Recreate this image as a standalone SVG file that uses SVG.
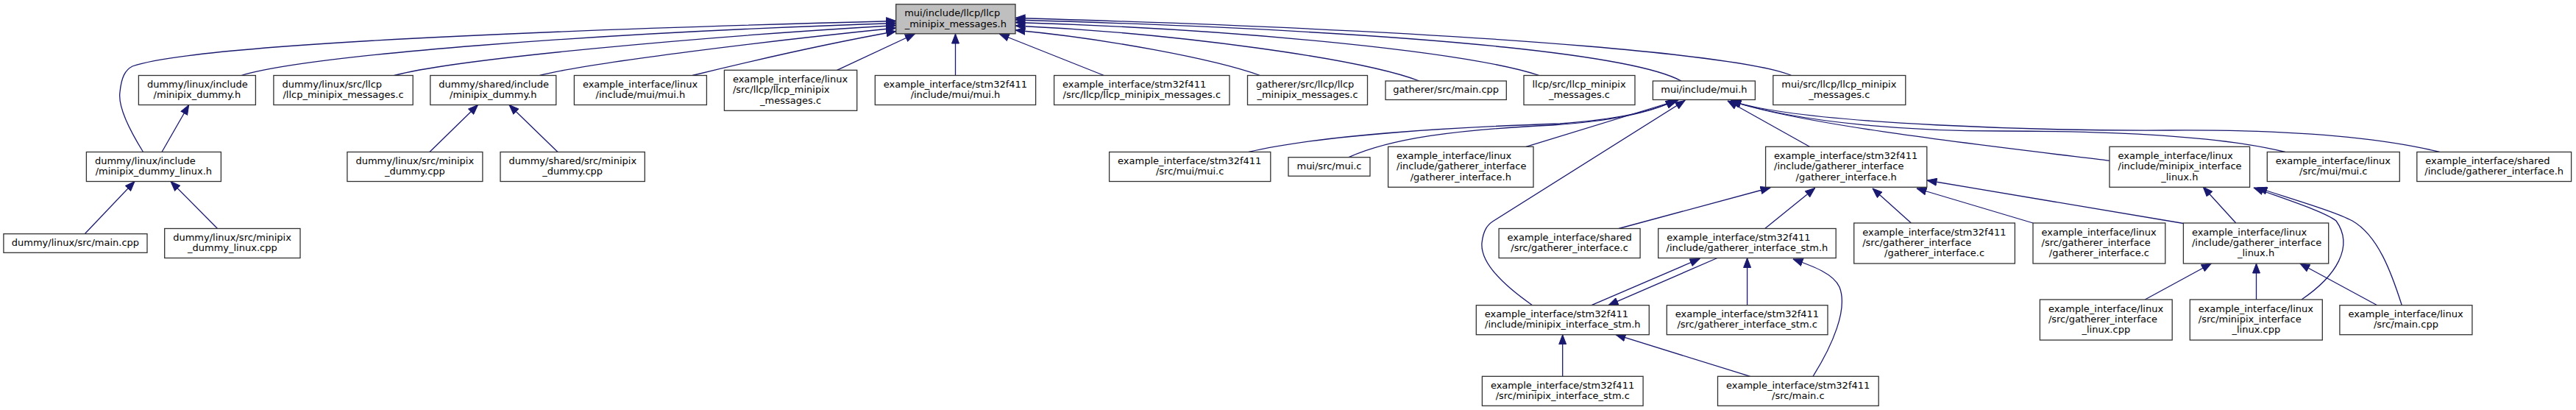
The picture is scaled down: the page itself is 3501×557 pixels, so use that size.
<svg xmlns="http://www.w3.org/2000/svg" width="3501" height="557" viewBox="0 0 3501 557">
<style>
rect{fill:#fff;stroke:#333;stroke-width:1.3}
#root rect{fill:#bfbfbf}
text{font-family:"DejaVu Sans","Liberation Sans",sans-serif;font-size:13px;fill:#000}
.m{text-anchor:middle}
.e path{fill:none;stroke:#191970;stroke-width:1.3;marker-end:url(#ah)}
</style>
<defs>
<marker id="ah" markerUnits="userSpaceOnUse" markerWidth="14" markerHeight="11" viewBox="0 0 14 11" refX="13.5" refY="5.5" orient="auto">
<path d="M0.5,0.5 L13.5,5.5 L0.5,10.5 z" fill="#191970" stroke="#191970" stroke-width="1"/>
</marker>
</defs>
<rect x="0" y="0" width="3501" height="557" style="fill:#fff;stroke:none"/>
<g class="e">
<path d="M194.6,206.5 C175,175 160,145 163,125 C165,105 170,95 180,90 C260,62 700,42 1217.7,28.5"/>
<path d="M328,102.5 C420,75 800,45 1217.7,31.5"/>
<path d="M535.7,102.5 C620,80 950,50 1217.7,34.5"/>
<path d="M733.5,102.5 C800,85 1050,55 1217.7,38"/>
<path d="M941,102.5 C1000,88 1120,60 1217.7,42.5"/>
<path d="M1137.5,95.3 L1243.3,46"/>
<path d="M1298.5,102.5 L1298.5,46"/>
<path d="M1500.4,102.5 L1358.3,46"/>
<path d="M1712.5,102.5 C1650,80 1500,52 1380,41"/>
<path d="M1929,110 C1850,80 1600,45 1380,35"/>
<path d="M2092,102.5 C2000,72 1700,40 1380,30.5"/>
<path d="M2285,110 C2230,80 2000,45 1380,27"/>
<path d="M2434.8,102.5 C2380,80 2100,45 1380,24.5"/>
<path d="M220,206.5 L256.7,142.5"/>
<path d="M583.9,206.5 L649.5,142.5"/>
<path d="M758,206.5 L692,142.5"/>
<path d="M115.2,317.7 L183,246.5"/>
<path d="M295.5,310.5 L232,246.5"/>
<path d="M1697,206.5 C1800,182 2000,172 2120,168 C2200,162 2250,150 2277,136"/>
<path d="M1833,213.7 C1890,188 1980,176 2110,170 C2200,164 2250,150 2278,136"/>
<path d="M2074,199.3 L2281,136"/>
<path d="M2082.6,414.7 C2040,385 2012,355 2014,330 C2016,312 2022,305 2030,300 L2290,136.5"/>
<path d="M2459.4,199.3 L2348,137"/>
<path d="M3105.8,206.5 C3020,185 2880,178 2720,178 C2600,178 2450,168 2352,137"/>
<path d="M3315.6,206.5 C3240,188 3120,176 2950,177 C2800,178 2450,170 2353,137"/>
<path d="M2867,218.3 C2700,198 2450,170 2352,137"/>
<path d="M2200,310.5 L2406,255"/>
<path d="M2398.7,310.5 L2466.7,255.5"/>
<path d="M2597.4,303 L2545,256"/>
<path d="M2763,303 L2605,256"/>
<path d="M2967.4,303.5 L2619,245"/>
<path d="M2163,414.7 L2310,351.5"/>
<path d="M2334,350.5 L2186,414.7"/>
<path d="M2374.6,414.7 L2374.6,350.5"/>
<path d="M2464,511.3 C2490,470 2512,420 2500,390 C2492,372 2465,362 2437,352"/>
<path d="M2123.7,511.3 L2123.7,454.7"/>
<path d="M2378.6,511.3 L2196,454.7"/>
<path d="M2915.2,407 L3005.3,358"/>
<path d="M3066.5,407 L3066.5,358"/>
<path d="M3230.8,414.7 L3125.9,358"/>
<path d="M3038.8,303 L2994.2,254"/>
<path d="M3128,407 C3175,375 3200,335 3175,300 C3160,288 3110,272 3063,255"/>
<path d="M3264.3,414.7 C3250,370 3232,320 3197,300 C3175,288 3120,272 3068,255"/>
</g>
<g id="root"><rect x="1217.7" y="5.8" width="162.3" height="40"/><text x="1229.2" y="22.2">mui/include/llcp/llcp</text><text class="m" x="1298.85" y="36.5">_minipix_messages.h</text></g>
<g id="n2"><rect x="188.4" y="102.5" width="159" height="40"/><text x="199.9" y="118.9">dummy/linux/include</text><text class="m" x="267.9" y="133.2">/minipix_dummy.h</text></g>
<g id="n3"><rect x="371.9" y="102.5" width="189.3" height="40"/><text x="383.4" y="118.9">dummy/linux/src/llcp</text><text class="m" x="466.55" y="133.2">/llcp_minipix_messages.c</text></g>
<g id="n4"><rect x="584.8" y="102.5" width="171" height="40"/><text x="596.3" y="118.9">dummy/shared/include</text><text class="m" x="670.3" y="133.2">/minipix_dummy.h</text></g>
<g id="n5"><rect x="780.4" y="102.5" width="180" height="40"/><text x="791.9" y="118.9">example_interface/linux</text><text class="m" x="870.4" y="133.2">/include/mui/mui.h</text></g>
<g id="n6"><rect x="984.4" y="95.3" width="180.3" height="55"/><text x="995.9" y="111.7">example_interface/linux</text><text x="995.9" y="126.3">/src/llcp/llcp_minipix</text><text class="m" x="1074.55" y="140.6">_messages.c</text></g>
<g id="n7"><rect x="1189.3" y="102.5" width="218.3" height="40"/><text x="1200.8" y="118.9">example_interface/stm32f411</text><text class="m" x="1298.45" y="133.2">/include/mui/mui.h</text></g>
<g id="n8"><rect x="1432.6" y="102.5" width="238.4" height="40"/><text x="1444.1" y="118.9">example_interface/stm32f411</text><text class="m" x="1551.8" y="133.2">/src/llcp/llcp_minipix_messages.c</text></g>
<g id="n9"><rect x="1695.5" y="102.5" width="163" height="40"/><text x="1707" y="118.9">gatherer/src/llcp/llcp</text><text class="m" x="1777" y="133.2">_minipix_messages.c</text></g>
<g id="n10"><rect x="1883" y="110" width="164.3" height="25.5"/><text class="m" x="1965.15" y="126.3">gatherer/src/main.cpp</text></g>
<g id="n11"><rect x="2071" y="102.5" width="151" height="40"/><text x="2082.5" y="118.9">llcp/src/llcp_minipix</text><text class="m" x="2146.5" y="133.2">_messages.c</text></g>
<g id="n12"><rect x="2246.4" y="110" width="139" height="25.5"/><text class="m" x="2315.9" y="126.3">mui/include/mui.h</text></g>
<g id="n13"><rect x="2409.8" y="102.5" width="180" height="40"/><text x="2421.3" y="118.9">mui/src/llcp/llcp_minipix</text><text class="m" x="2499.8" y="133.2">_messages.c</text></g>
<g id="n14"><rect x="117.4" y="206.5" width="183" height="40"/><text x="128.9" y="222.9">dummy/linux/include</text><text class="m" x="208.9" y="237.2">/minipix_dummy_linux.h</text></g>
<g id="n15"><rect x="471.9" y="206.5" width="184" height="40"/><text x="483.4" y="222.9">dummy/linux/src/minipix</text><text class="m" x="563.9" y="237.2">_dummy.cpp</text></g>
<g id="n16"><rect x="680" y="206.5" width="196.3" height="40"/><text x="691.5" y="222.9">dummy/shared/src/minipix</text><text class="m" x="778.15" y="237.2">_dummy.cpp</text></g>
<g id="n17"><rect x="1507.6" y="206.5" width="219.2" height="40"/><text x="1519.1" y="222.9">example_interface/stm32f411</text><text class="m" x="1617.2" y="237.2">/src/mui/mui.c</text></g>
<g id="n18"><rect x="1751" y="213.7" width="111" height="25.5"/><text class="m" x="1806.5" y="230">mui/src/mui.c</text></g>
<g id="n19"><rect x="1886.6" y="199.3" width="197.4" height="55"/><text x="1898.1" y="215.7">example_interface/linux</text><text x="1898.1" y="230.3">/include/gatherer_interface</text><text class="m" x="1985.3" y="244.6">/gatherer_interface.h</text></g>
<g id="n20"><rect x="2399.6" y="199.3" width="219.2" height="55"/><text x="2411.1" y="215.7">example_interface/stm32f411</text><text x="2411.1" y="230.3">/include/gatherer_interface</text><text class="m" x="2509.2" y="244.6">/gatherer_interface.h</text></g>
<g id="n21"><rect x="2867" y="199.3" width="190.6" height="55"/><text x="2878.5" y="215.7">example_interface/linux</text><text x="2878.5" y="230.3">/include/minipix_interface</text><text class="m" x="2962.3" y="244.6">_linux.h</text></g>
<g id="n22"><rect x="3081.3" y="206.5" width="180" height="40"/><text x="3092.8" y="222.9">example_interface/linux</text><text class="m" x="3171.3" y="237.2">/src/mui/mui.c</text></g>
<g id="n23"><rect x="3284.8" y="206.5" width="209.8" height="40"/><text x="3296.3" y="222.9">example_interface/shared</text><text class="m" x="3389.7" y="237.2">/include/gatherer_interface.h</text></g>
<g id="n24"><rect x="4.9" y="317.7" width="195.1" height="25.6"/><text class="m" x="102.45" y="334">dummy/linux/src/main.cpp</text></g>
<g id="n25"><rect x="223.7" y="310.5" width="184.3" height="40"/><text x="235.2" y="326.9">dummy/linux/src/minipix</text><text class="m" x="315.85" y="341.2">_dummy_linux.cpp</text></g>
<g id="n26"><rect x="2037.1" y="310.5" width="192" height="40"/><text x="2048.6" y="326.9">example_interface/shared</text><text class="m" x="2133.1" y="341.2">/src/gatherer_interface.c</text></g>
<g id="n27"><rect x="2253.7" y="310.5" width="241.5" height="40"/><text x="2265.2" y="326.9">example_interface/stm32f411</text><text class="m" x="2374.45" y="341.2">/include/gatherer_interface_stm.h</text></g>
<g id="n28"><rect x="2519.7" y="303" width="218.7" height="55"/><text x="2531.2" y="319.7">example_interface/stm32f411</text><text x="2531.2" y="334">/src/gatherer_interface</text><text class="m" x="2629.05" y="348.3">/gatherer_interface.c</text></g>
<g id="n29"><rect x="2763" y="303" width="179.8" height="55"/><text x="2774.5" y="319.7">example_interface/linux</text><text x="2774.5" y="334">/src/gatherer_interface</text><text class="m" x="2852.9" y="348.3">/gatherer_interface.c</text></g>
<g id="n30"><rect x="2967.4" y="303" width="197.3" height="55"/><text x="2978.9" y="319.7">example_interface/linux</text><text x="2978.9" y="334">/include/gatherer_interface</text><text class="m" x="3066.05" y="348.3">_linux.h</text></g>
<g id="n31"><rect x="2006.3" y="414.7" width="235" height="40"/><text x="2017.8" y="431">example_interface/stm32f411</text><text class="m" x="2123.8" y="445.4">/include/minipix_interface_stm.h</text></g>
<g id="n32"><rect x="2265.3" y="414.7" width="218.7" height="40"/><text x="2276.8" y="431">example_interface/stm32f411</text><text class="m" x="2374.65" y="445.4">/src/gatherer_interface_stm.c</text></g>
<g id="n33"><rect x="2772.4" y="407" width="179.8" height="55"/><text x="2783.9" y="423.7">example_interface/linux</text><text x="2783.9" y="438">/src/gatherer_interface</text><text class="m" x="2862.3" y="452.3">_linux.cpp</text></g>
<g id="n34"><rect x="2976.3" y="407" width="180" height="55"/><text x="2987.8" y="423.7">example_interface/linux</text><text x="2987.8" y="438">/src/minipix_interface</text><text class="m" x="3066.3" y="452.3">_linux.cpp</text></g>
<g id="n35"><rect x="3179.9" y="414.7" width="180" height="40"/><text x="3191.4" y="431">example_interface/linux</text><text class="m" x="3269.9" y="445.4">/src/main.cpp</text></g>
<g id="n36"><rect x="2014.4" y="511.3" width="218.7" height="40"/><text x="2025.9" y="527.7">example_interface/stm32f411</text><text class="m" x="2123.75" y="542">/src/minipix_interface_stm.c</text></g>
<g id="n37"><rect x="2334.5" y="511.3" width="218.7" height="40"/><text x="2346" y="527.7">example_interface/stm32f411</text><text class="m" x="2443.85" y="542">/src/main.c</text></g>
</svg>
